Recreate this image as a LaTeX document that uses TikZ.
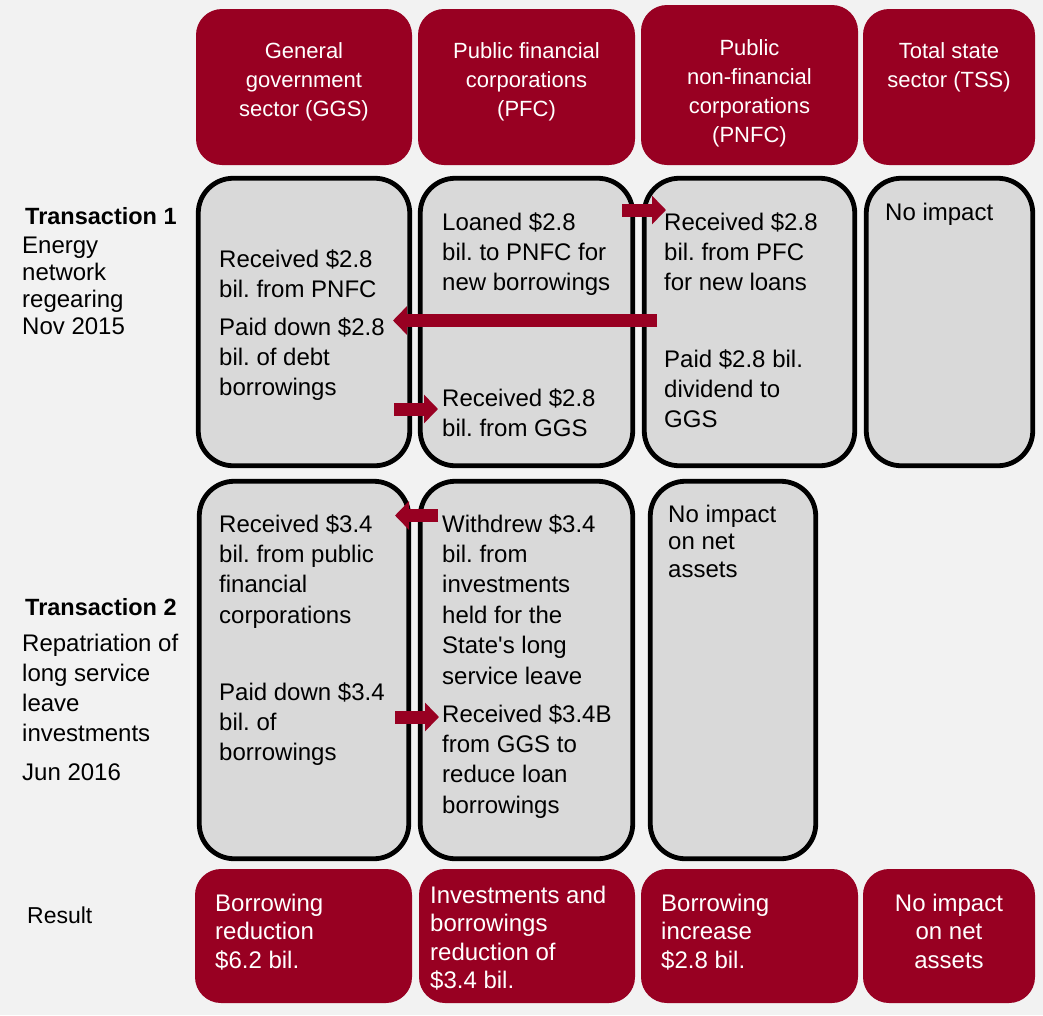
\documentclass[tikz,border=0pt]{standalone}
\usepackage{fontspec}
\setmainfont{Liberation Sans}
\usetikzlibrary{arrows.meta}
\definecolor{dred}{RGB}{152,0,34}
\definecolor{boxgrey}{RGB}{217,217,217}
\definecolor{bggrey}{RGB}{242,242,242}
\frenchspacing
\begin{document}
\begin{tikzpicture}[x=1pt,y=-1pt,
  redbox/.style={fill=dred, rounded corners=26pt, inner sep=0pt, outer sep=0pt},
  greybox/.style={draw=black, line width=4.8pt, fill=boxgrey, rounded corners=35pt, inner sep=0pt, outer sep=0pt},
  body/.style={anchor=base west, inner sep=0pt, align=left, font=\fontsize{24}{30.4}\selectfont},
  side/.style={anchor=base west, inner sep=0pt, align=left, font=\fontsize{24}{30}\selectfont},
  hdrtxt/.style={anchor=base, inner sep=0pt, align=center, text=white, font=\fontsize{22}{29}\selectfont},
  restxt/.style={anchor=base west, inner sep=0pt, align=left, text=white, font=\fontsize{24}{28.5}\selectfont},
  flow/.style={draw=dred, line width=13pt, -{Triangle[width=28pt,length=14pt]}},
]
\fill[bggrey] (0,0) rectangle (1043,1015);
\useasboundingbox (0,0) rectangle (1043,1015);

% headers
\node[redbox, minimum width=216pt, minimum height=156pt] (hggs) at (304,87) {};
\node[redbox, minimum width=217pt, minimum height=156pt] (hpfc) at (526.5,87) {};
\node[redbox, minimum width=217pt, minimum height=160pt] (hpnfc) at (749.5,85) {};
\node[redbox, minimum width=172pt, minimum height=156pt] (htss) at (949,87) {};
% (anchor base = baseline of the last line)
\node[hdrtxt] (hggst) at (304,116) {General\\government\\sector (GGS)};
\node[hdrtxt] (hpfct) at (526.5,116) {Public financial\\corporations\\(PFC)};
\node[hdrtxt] (hpnfct) at (749.5,142) {Public\\non-financial\\corporations\\(PNFC)};
\node[hdrtxt] (htsst) at (949,87) {Total state\\sector (TSS)};

% row 1
\node[greybox, minimum width=211.5pt, minimum height=287.5pt] (g1) at (304,322) {};
\node[greybox, minimum width=212.5pt, minimum height=287.5pt] (p1) at (526.5,322) {};
\node[greybox, minimum width=210.5pt, minimum height=287.5pt] (n1) at (749.5,322) {};
\node[greybox, minimum width=166.5pt, minimum height=287.5pt] (t1) at (949.5,322) {};

% row 2
\node[greybox, minimum width=209.5pt, minimum height=377.5pt] (g2) at (304,670) {};
\node[greybox, minimum width=212.5pt, minimum height=377.5pt] (p2) at (526.5,670) {};
\node[greybox, minimum width=165.5pt, minimum height=377.5pt] (n2) at (733,670) {};

% results
\node[redbox, minimum width=217pt, minimum height=134pt] (rggs) at (303.5,936) {};
\node[redbox, minimum width=216pt, minimum height=134pt] (rpfc) at (527,936) {};
\node[redbox, minimum width=217pt, minimum height=134pt] (rpnfc) at (749.5,936) {};
\node[redbox, minimum width=172pt, minimum height=134pt] (rtss) at (949,936) {};

% body texts row 1
\node[body] (g1a) at (219,297.4) {Received \$2.8\\bil. from PNFC};
\node[body] (g1b) at (219,395.8) {Paid down \$2.8\\bil. of debt\\borrowings};
\node[body] (p1a) at (442,290.8) {Loaned \$2.8\\bil. to PNFC for\\new borrowings};
\node[body] (p1b) at (442,436.4) {Received \$2.8\\bil. from GGS};
\node[body] (n1a) at (664,290.8) {Received \$2.8\\bil. from PFC\\for new loans};
\node[body] (n1b) at (664,427.8) {Paid \$2.8 bil.\\dividend to\\GGS};
\node[body] (t1a) at (885,220) {No impact};

% body texts row 2
\node[body] (g2a) at (219,623.2) {Received \$3.4\\bil. from public\\financial\\corporations};
\node[body] (g2b) at (219,760.8) {Paid down \$3.4\\bil. of\\borrowings};
\node[body] (p2a) at (442,684) {Withdrew \$3.4\\bil. from\\investments\\held for the\\State\textquotesingle s long\\service leave};
\node[body] (p2b) at (442,813.2) {Received \$3.4B\\from GGS to\\reduce loan\\borrowings};
\node[body, font=\fontsize{24}{27.5}\selectfont] (n2a) at (668,577) {No impact\\on net\\assets};

% side labels
\node[side, font=\fontsize{23.5}{30}\selectfont\bfseries] (tr1) at (25,224) {Transaction 1};
\node[side, font=\fontsize{24}{27}\selectfont] (tr1d) at (22,334) {Energy\\network\\regearing\\Nov 2015};
\node[side, font=\fontsize{23.5}{30}\selectfont\bfseries] (tr2) at (25,615) {Transaction 2};
\node[side] (tr2d) at (22,741) {Repatriation of\\long service\\leave\\investments};
\node[side] (tr2date) at (22,780) {Jun 2016};
\node[side, font=\fontsize{23}{30}\selectfont] (res) at (27,923) {Result};

% result texts
\node[restxt] (rggst) at (215,968) {Borrowing\\reduction\\\$6.2 bil.};
\node[restxt] (rpfct) at (430,988.5) {Investments and\\borrowings\\reduction of\\\$3.4 bil.};
\node[restxt] (rpnfct) at (661,968) {Borrowing\\increase\\\$2.8 bil.};
\node[restxt, anchor=base, align=center] (rtsst) at (949,968) {No impact\\on net\\assets};

% arrows
\coordinate (a1s) at (622,210);   \coordinate (a1e) at (666,210);
\coordinate (a2s) at (657,320.5); \coordinate (a2e) at (393,320.5);
\coordinate (a3s) at (394,409);   \coordinate (a3e) at (438,409);
\coordinate (a4s) at (438,515.5); \coordinate (a4e) at (395,515.5);
\coordinate (a5s) at (395,717);   \coordinate (a5e) at (439,717);
\draw[flow] (a1s) -- (a1e);
\draw[flow] (a2s) -- (a2e);
\draw[flow] (a3s) -- (a3e);
\draw[flow] (a4s) -- (a4e);
\draw[flow] (a5s) -- (a5e);
\end{tikzpicture}
\end{document}
